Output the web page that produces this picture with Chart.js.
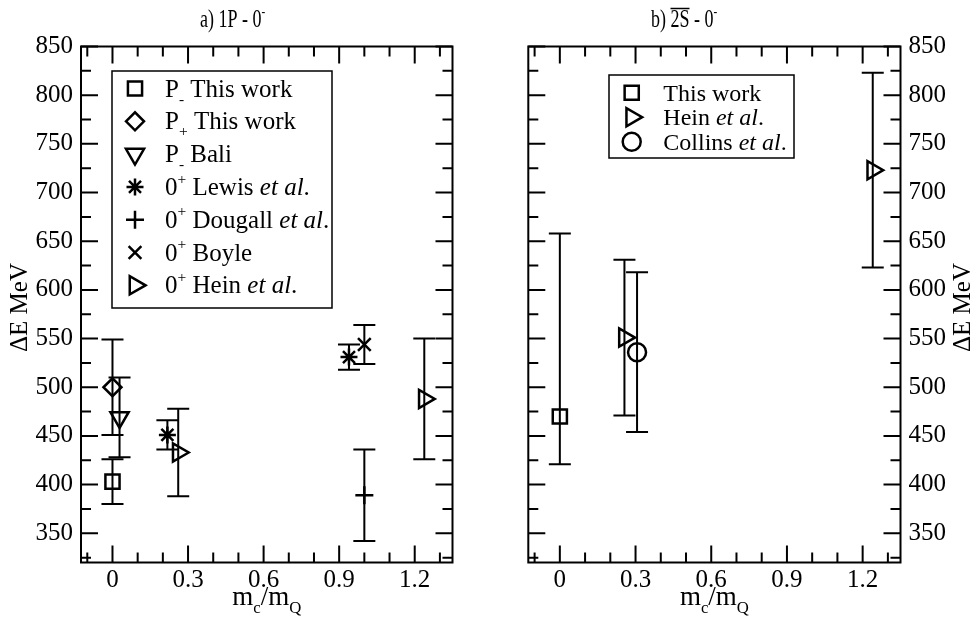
<!DOCTYPE html>
<html>
<head>
<meta charset="utf-8">
<script src="https://cdn.jsdelivr.net/npm/chart.js@4.4.1/dist/chart.umd.min.js"></script>
<style>
  html, body { margin: 0; padding: 0; background: #fff; }
  #wrap { position: relative; width: 972px; height: 631px; }
  .panel { position: absolute; top: 0; width: 486px; height: 631px; }
</style>
</head>
<body>
<div id="wrap">
  <div class="panel" style="left:0"><canvas id="chartA"></canvas></div>
  <div class="panel" style="left:486px"><canvas id="chartB"></canvas></div>
</div>
<script>
const FONT = '"Liberation Serif", "Times New Roman", serif';

// axis ticks (shared by both panels)
const xMajor = [0, 0.3, 0.6, 0.9, 1.2];
const xMajorLabels = ['0', '0.3', '0.6', '0.9', '1.2'];
const xMinor = [-0.1, 0.1, 0.2, 0.4, 0.5, 0.7, 0.8, 1.0, 1.1, 1.3];
const yMajor = [350, 400, 450, 500, 550, 600, 650, 700, 750, 800, 850];
const yMajorLabels = ['350', '400', '450', '500', '550', '600', '650', '700', '750', '800', '850'];
const yMinor = [325, 375, 425, 475, 525, 575, 625, 675, 725, 775, 825];

// panel a) 1P - 0-
const aLegend = ['P_- This work', 'P_+ This work', 'P_- Bali', '0^+ Lewis *et al*.',
                 '0^+ Dougall *et al*.', '0^+ Boyle', '0^+ Hein *et al*.'];
const aPmThisX = [0],            aPmThisY = [403],       aPmThisErr = [23];
const aPpThisX = [0],            aPpThisY = [500],       aPpThisErr = [49];
const aBaliX = [0.028],          aBaliY = [469],         aBaliErr = [41];
const aLewisX = [0.218, 0.939],  aLewisY = [451, 531],   aLewisErr = [15, 13];
const aDougallX = [1.0],         aDougallY = [389],      aDougallErr = [47];
const aBoyleX = [1.0],           aBoyleY = [544],        aBoyleErr = [20];
const aHeinX = [0.261, 1.238],   aHeinY = [433, 488],    aHeinErr = [45, 62];

// panel b) 2S - 0-
const bLegend = ['This work', 'Hein *et al*.', 'Collins *et al*.'];
const bThisX = [0],              bThisY = [470],         bThisErrUp = [188], bThisErrDown = [49];
const bHeinX = [0.256, 1.24],    bHeinY = [551, 723],    bHeinErr = [80, 100];
const bCollinsX = [0.306],       bCollinsY = [536],      bCollinsErr = [82];

const pts = (xs, ys) => xs.map((x, i) => ({ x, y: ys[i] }));

const marker = (style, radius, rotation) => ({
    pointStyle: style,
    pointRadius: radius,
    pointRotation: rotation || 0,
    pointBorderWidth: 2.5,
    borderColor: '#000',
    backgroundColor: 'rgba(0,0,0,0)',
    showLine: false
});

// simple rich text: _x subscript, ^x superscript, *..* italic, #..# overline
const drawRich = (ctx, str, x, y, size, draw) => {
    let italic = false, overStart = null, cx = x;
    for (let i = 0; i < str.length; i++) {
        let ch = str[i];
        if (ch === '*') { italic = !italic; continue; }
        if (ch === '#') {
            if (overStart === null) { overStart = cx; }
            else {
                if (draw) {
                    ctx.save();
                    ctx.lineWidth = 1.5;
                    ctx.beginPath();
                    ctx.moveTo(overStart, y - size * 0.74);
                    ctx.lineTo(cx, y - size * 0.74);
                    ctx.stroke();
                    ctx.restore();
                }
                overStart = null;
            }
            continue;
        }
        let s = size, dy = 0;
        if (ch === '_') { ch = str[++i]; s = size * 0.62; dy = size * 0.28; }
        else if (ch === '^') { ch = str[++i]; s = size * 0.62; dy = -size * 0.45; }
        ctx.font = (italic ? 'italic ' : '') + s + 'px ' + FONT;
        if (draw) ctx.fillText(ch, cx, y + dy);
        cx += ctx.measureText(ch).width;
    }
    return cx - x;
};

const decor = {
    id: 'decor',
    beforeDatasetsDraw(chart) {
        // error bars
        const { ctx, scales: { x, y } } = chart;
        ctx.save();
        ctx.strokeStyle = '#000';
        ctx.lineWidth = 2;
        chart.data.datasets.forEach(ds => {
            ds.data.forEach((p, i) => {
                const px = x.getPixelForValue(p.x);
                const top = y.getPixelForValue(p.y + ds.errPlus[i]);
                const bot = y.getPixelForValue(p.y - ds.errMinus[i]);
                ctx.beginPath();
                ctx.moveTo(px, top); ctx.lineTo(px, bot);
                ctx.moveTo(px - 11, top); ctx.lineTo(px + 11, top);
                ctx.moveTo(px - 11, bot); ctx.lineTo(px + 11, bot);
                ctx.stroke();
            });
        });
        ctx.restore();
    },
    afterDraw(chart, args, opts) {
        const { ctx, chartArea: a, scales: { x, y } } = chart;
        ctx.save();
        ctx.strokeStyle = '#000';
        ctx.fillStyle = '#000';

        // frame
        ctx.lineWidth = 2;
        ctx.strokeRect(a.left, a.top, a.right - a.left, a.bottom - a.top);

        // inward ticks on all four sides
        const xt = (vals, len) => vals.forEach(v => {
            const px = x.getPixelForValue(v);
            ctx.moveTo(px, a.bottom); ctx.lineTo(px, a.bottom - len);
            ctx.moveTo(px, a.top); ctx.lineTo(px, a.top + len);
        });
        const yt = (vals, len) => vals.forEach(v => {
            const py = y.getPixelForValue(v);
            ctx.moveTo(a.left, py); ctx.lineTo(a.left + len, py);
            ctx.moveTo(a.right, py); ctx.lineTo(a.right - len, py);
        });
        ctx.beginPath();
        xt(xMajor, 17); xt(xMinor, 10);
        yt(yMajor, 17); yt(yMinor, 10);
        ctx.stroke();

        // title (narrow face)
        ctx.textAlign = 'left';
        ctx.textBaseline = 'alphabetic';
        ctx.save();
        ctx.translate(opts.titleX, 27);
        ctx.scale(0.72, 1);
        drawRich(ctx, opts.title, 0, 0, 25, true);
        ctx.restore();

        // x axis title
        const w = drawRich(ctx, 'm_c/m_Q', 0, 0, 27, false);
        drawRich(ctx, 'm_c/m_Q', (a.left + a.right) / 2 - w / 2, 605, 27, true);

        // y axis title
        ctx.save();
        ctx.translate(opts.yTitleX, (a.top + a.bottom) / 2 + 3);
        ctx.rotate(-Math.PI / 2);
        ctx.font = '25px ' + FONT;
        ctx.textAlign = 'center';
        ctx.textBaseline = 'middle';
        ctx.fillText('\u0394E MeV', 0, 0);
        ctx.restore();

        // legend inside the plot
        const lg = opts.legend;
        ctx.lineWidth = 1.5;
        ctx.strokeRect(lg.box[0], lg.box[1], lg.box[2] - lg.box[0], lg.box[3] - lg.box[1]);
        chart.data.datasets.forEach((ds, i) => {
            const ry = lg.firstRow + i * lg.rowGap;
            ctx.save();
            ctx.lineWidth = ds.pointBorderWidth;
            ctx.fillStyle = 'rgba(0,0,0,0)';
            Chart.helpers.drawPoint(ctx, {
                pointStyle: ds.pointStyle,
                rotation: ds.pointRotation,
                radius: ds.pointRadius,
                borderWidth: ds.pointBorderWidth
            }, lg.symX, ry);
            ctx.restore();
            ctx.textAlign = 'left';
            ctx.textBaseline = 'alphabetic';
            drawRich(ctx, opts.labels[i], lg.textX, ry + 8, lg.size, true);
        });
        ctx.restore();
    }
};

const makeScales = (yPos, yWidth) => ({
    x: {
        type: 'linear', position: 'bottom', min: -0.125, max: 1.35,
        afterBuildTicks: s => { s.ticks = xMajor.concat(xMinor).map(v => ({ value: v })); },
        afterFit: s => { s.height = 68.5; },
        ticks: {
            autoSkip: false, maxRotation: 0, padding: 3, color: '#000',
            font: { family: FONT, size: 25 },
            callback: v => { const k = xMajor.indexOf(v); return k < 0 ? '' : xMajorLabels[k]; }
        },
        grid: { display: false, drawTicks: false },
        border: { display: false }
    },
    y: {
        type: 'linear', position: yPos, min: 320, max: 850,
        afterBuildTicks: s => { s.ticks = yMajor.concat(yMinor).map(v => ({ value: v })); },
        afterFit: s => { s.width = yWidth; },
        ticks: {
            autoSkip: false, padding: 8, color: '#000',
            font: { family: FONT, size: 25 },
            callback: v => { const k = yMajor.indexOf(v); return k < 0 ? '' : yMajorLabels[k]; }
        },
        grid: { display: false, drawTicks: false },
        border: { display: false }
    }
});

const errSym = (ds, err) => Object.assign(ds, { errPlus: err, errMinus: err });

new Chart(document.getElementById('chartA'), {
    type: 'scatter',
    data: {
        datasets: [
            errSym(Object.assign({ data: pts(aPmThisX, aPmThisY) }, marker('rect', 10)), aPmThisErr),
            errSym(Object.assign({ data: pts(aPpThisX, aPpThisY) }, marker('rectRot', 9)), aPpThisErr),
            errSym(Object.assign({ data: pts(aBaliX, aBaliY) }, marker('triangle', 10.5, 180)), aBaliErr),
            errSym(Object.assign({ data: pts(aLewisX, aLewisY) }, marker('star', 8.5)), aLewisErr),
            errSym(Object.assign({ data: pts(aDougallX, aDougallY) }, marker('cross', 9)), aDougallErr),
            errSym(Object.assign({ data: pts(aBoyleX, aBoyleY) }, marker('crossRot', 9)), aBoyleErr),
            errSym(Object.assign({ data: pts(aHeinX, aHeinY) }, marker('triangle', 10.5, 90)), aHeinErr)
        ]
    },
    options: {
        responsive: true,
        maintainAspectRatio: false,
        animation: false,
        events: [],
        layout: { padding: { top: 46.5, right: 33.5, left: 0, bottom: 0 } },
        plugins: {
            legend: { display: false },
            tooltip: { enabled: false },
            decor: {
                title: 'a) 1P - 0^-', titleX: 200, yTitleX: 20,
                labels: aLegend,
                legend: { box: [112, 71, 332, 308], firstRow: 88.5, rowGap: 32.8, symX: 135, textX: 165, size: 25 }
            }
        },
        scales: makeScales('left', 81)
    },
    plugins: [decor]
});

new Chart(document.getElementById('chartB'), {
    type: 'scatter',
    data: {
        datasets: [
            Object.assign({ data: pts(bThisX, bThisY), errPlus: bThisErrUp, errMinus: bThisErrDown }, marker('rect', 10)),
            errSym(Object.assign({ data: pts(bHeinX, bHeinY) }, marker('triangle', 10.5, 90)), bHeinErr),
            errSym(Object.assign({ data: pts(bCollinsX, bCollinsY) }, marker('circle', 9)), bCollinsErr)
        ]
    },
    options: {
        responsive: true,
        maintainAspectRatio: false,
        animation: false,
        events: [],
        layout: { padding: { top: 46.5, right: 0, left: 42.3, bottom: 0 } },
        plugins: {
            legend: { display: false },
            tooltip: { enabled: false },
            decor: {
                title: 'b) #2S# - 0^-', titleX: 165, yTitleX: 477,
                labels: bLegend,
                legend: { box: [123, 75, 308, 158], firstRow: 92.7, rowGap: 24.5, symX: 145.7, textX: 177.3, size: 24 }
            }
        },
        scales: makeScales('right', 71.5)
    },
    plugins: [decor]
});
</script>
</body>
</html>
